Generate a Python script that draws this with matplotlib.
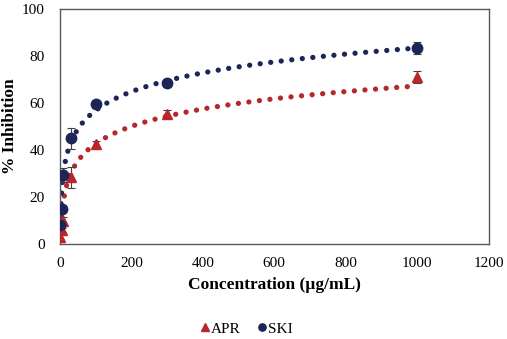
import numpy as np
import matplotlib.pyplot as plt

plt.rcParams['font.family'] = ['Liberation Serif', 'DejaVu Serif']

# concentrations and % inhibition for both extracts
CONC = [1, 5, 10, 30, 100, 300, 1000]
APR = [3.0, 6.0, 10.0, 28.5, 42.5, 55.5, 71.0]
APR_ERR = [1.0, 1.0, 1.5, 4.5, 1.5, 1.5, 2.5]
SKI = [8.0, 15.0, 29.5, 45.0, 59.5, 68.5, 83.5]
SKI_ERR = [1.0, 1.5, 3.0, 4.5, 1.5, 1.5, 2.5]

RED = '#B8262B'
NAVY = '#1C2559'

fig = plt.figure(figsize=(5.07, 3.39), dpi=100)
ax = fig.add_axes([0.118, 0.28, 0.846, 0.693])

x = np.array(CONC, dtype=float)
xs = np.linspace(x.min(), x.max(), 2000)

# logarithmic trendlines (least squares on ln x), dotted like the spreadsheet ones
for y, col in [(APR, RED), (SKI, NAVY)]:
    a, b = np.polyfit(np.log(x), np.array(y), 1)
    ax.plot(xs, a * np.log(xs) + b, color=col, lw=3.8,
            linestyle=(0, (0.01, 2.0)), dash_capstyle='round', zorder=2)

ax.errorbar(CONC, APR, yerr=APR_ERR, fmt='^', color=RED, ms=7.5,
            ecolor='#404040', elinewidth=0.8, capsize=3, capthick=0.8,
            zorder=3, label='APR')
ax.errorbar(CONC, SKI, yerr=SKI_ERR, fmt='o', color=NAVY, ms=7.5,
            ecolor='#404040', elinewidth=0.8, capsize=3, capthick=0.8,
            zorder=4, label='SKI')

ax.set_xlim(0, 1200)
ax.set_ylim(0, 100)
ax.set_xticks(np.arange(0, 1201, 200))
ax.set_yticks(np.arange(0, 101, 20))
ax.tick_params(axis='y', length=0, labelsize=11, pad=11)
ax.tick_params(axis='x', length=0, labelsize=11, pad=9)
for s in ax.spines.values():
    s.set_color('#595959')
    s.set_linewidth(1.0)

ax.set_xlabel('Concentration (µg/mL)', fontsize=12.5, fontweight='bold', labelpad=5)
ax.set_ylabel('% Inhibition', fontsize=12.5, fontweight='bold')
ax.yaxis.set_label_coords(-0.097, 0.5)

h, l = ax.get_legend_handles_labels()
h = [hh[0] for hh in h]
fig.legend(h, l, loc='center', bbox_to_anchor=(0.487, 0.03), ncol=2,
           frameon=False, fontsize=11, handlelength=0.5, handletextpad=0.1,
           columnspacing=1.2, markerscale=0.7)

fig.savefig('out.png', dpi=100)
